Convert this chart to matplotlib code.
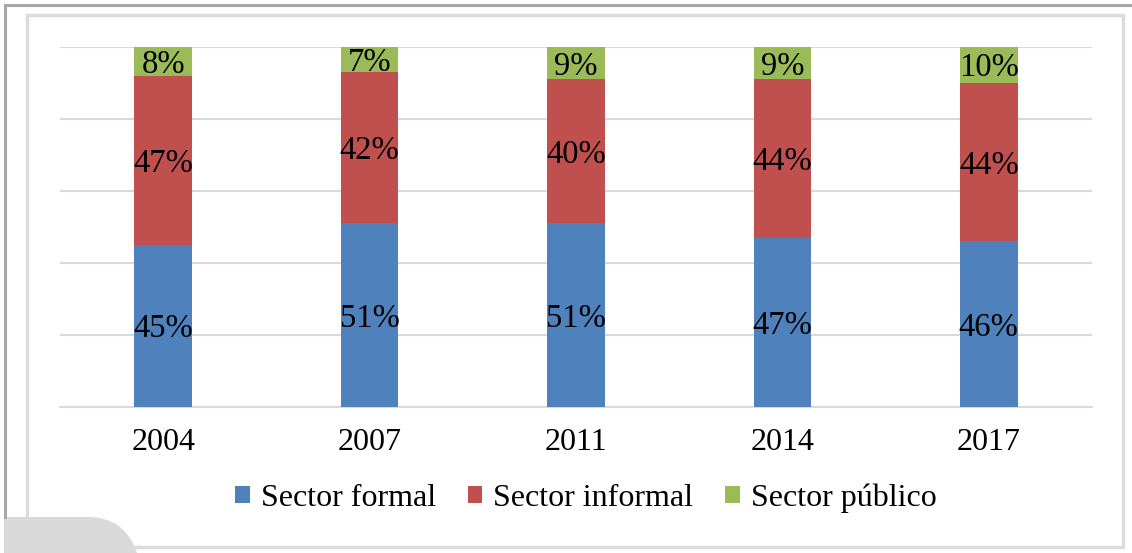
import matplotlib
matplotlib.use("Agg")
import matplotlib.pyplot as plt
from matplotlib.path import Path
from matplotlib.patches import PathPatch, Rectangle
from matplotlib.lines import Line2D
import numpy as np

years = ["2004", "2007", "2011", "2014", "2017"]
formal = [45, 51, 51, 47, 46]
informal = [47, 42, 40, 44, 44]
publico = [8, 7, 9, 9, 10]
series_names = ["Sector formal", "Sector informal", "Sector público"]
colors = ["#4F81BD", "#C0504D", "#9BBB59"]

W, H = 1132, 553
plt.rcParams['font.family'] = ['Liberation Serif', 'DejaVu Serif']
fig = plt.figure(figsize=(W / 100, H / 100), dpi=100)

def px(x, y):
    return (x / W, 1 - y / H)

# decorative frame
fig.add_artist(Line2D([px(5, 0)[0], px(1132, 0)[0]], [px(0, 5)[1]] * 2, color="#a8a8a8", lw=2.2, transform=fig.transFigure))
fig.add_artist(Line2D([px(5, 0)[0]] * 2, [px(0, 5)[1], px(0, 517)[1]], color="#a8a8a8", lw=2.2, transform=fig.transFigure))
x0, y0 = px(27, 547)
x1, y1 = px(1123, 15)
fig.add_artist(Rectangle((x0, y0), x1 - x0, y1 - y0, fill=False, ec="#dcdcdc", lw=2.5, transform=fig.transFigure))
verts = [px(4, 553), px(4, 517), px(88, 517), px(125, 517), px(137, 553), px(4, 553)]
codes = [Path.MOVETO, Path.LINETO, Path.LINETO, Path.CURVE3, Path.CURVE3, Path.CLOSEPOLY]
fig.add_artist(PathPatch(Path(verts, codes), fc="#d9d9d9", ec="none", transform=fig.transFigure))

ax = fig.add_axes([60 / W, 1 - 407 / H, (1092 - 60) / W, (407 - 47) / H])
x = np.arange(len(years))
bottom = np.zeros(len(years))
data = [formal, informal, publico]
for vals, name, c in zip(data, series_names, colors):
    vals = np.array(vals, dtype=float)
    ax.bar(x, vals, width=0.28, bottom=bottom, color=c, label=name, zorder=3)
    for xi, b, v in zip(x, bottom, vals):
        ax.annotate(f"{int(v)}%", (xi, b + v / 2), xytext=(0, -2.2), textcoords="offset points",
                    ha="center", va="center", fontsize=23.5, color="black", zorder=4)
    bottom += vals

ax.set_xlim(-0.5, len(years) - 0.5)
ax.set_ylim(0, 100)
ax.set_yticks([0, 20, 40, 60, 80, 100])
ax.set_yticklabels([])
ax.tick_params(axis="y", length=0)
ax.tick_params(axis="x", length=0, labelsize=23, pad=15)
ax.set_xticks(x)
ax.set_xticklabels(years)
ax.grid(axis="y", color="#d9d9d9", lw=1.5, zorder=0)
for s in ["left", "right", "top"]:
    ax.spines[s].set_visible(False)
ax.spines["bottom"].set_color("#d9d9d9")
ax.spines["bottom"].set_linewidth(1.5)

handles = [Rectangle((0, 0), 1, 1, fc=c) for c in colors]
fig.legend(handles, series_names, loc="center", bbox_to_anchor=(px(586, 0)[0], px(0, 498)[1]),
           ncol=3, frameon=False, fontsize=23, handlelength=0.45, handleheight=0.45,
           handletextpad=0.35, columnspacing=1.0)

fig.savefig("out.png", dpi=100)
